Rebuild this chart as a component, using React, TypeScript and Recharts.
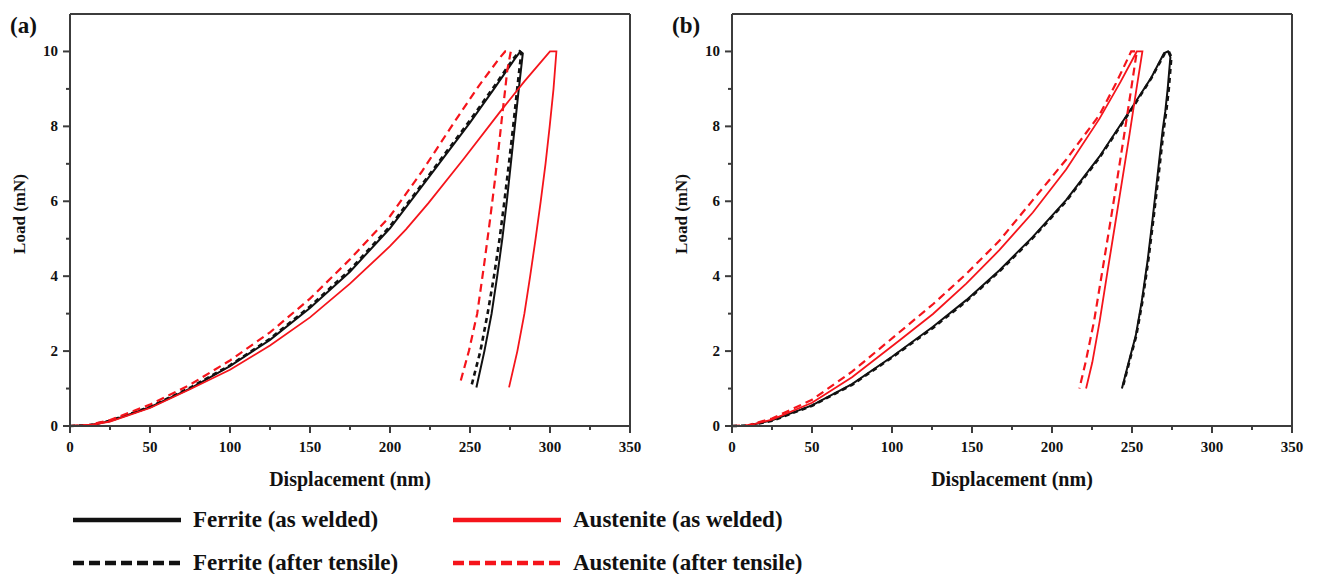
import { LineChart, Line, XAxis, YAxis, ReferenceLine, Label } from 'recharts';

type Pt = [number, number];

const SERIF = "'Liberation Serif', 'Times New Roman', Times, serif";
const AXIS_COLOR = '#3c3c3c';
const BLACK = '#111111';
const RED = '#f5141b';

// [displacement (nm), load (mN)] — loading branch, hold at 10 mN, then unloading branch

// (a)
const ferriteWeldedA: Pt[] = [
  [0, 0], [12, 0.02], [25, 0.13], [50, 0.5], [75, 1.0], [100, 1.6], [125, 2.3],
  [150, 3.15], [175, 4.12], [200, 5.28], [223, 6.57], [250, 8.1], [265, 9.0],
  [278, 9.8], [281.5, 10], [283, 9.95],
  [280.5, 9], [278, 8], [275.5, 7], [273, 6], [270.2, 5], [267, 4], [263.5, 3],
  [259, 2], [254, 1.03],
];
const ferriteTensileA: Pt[] = [
  [0, 0], [12, 0.02], [25, 0.14], [50, 0.51], [75, 1.02], [100, 1.62], [125, 2.33],
  [150, 3.19], [175, 4.17], [200, 5.33], [223, 6.62], [250, 8.16], [265, 9.06],
  [277, 9.8], [281, 10], [282, 9.95],
  [279.5, 9], [277, 8], [274.3, 7], [271.5, 6], [268.5, 5], [265, 4], [261, 3],
  [256.5, 2], [251, 1.09],
];
const austeniteWeldedA: Pt[] = [
  [0, 0], [12, 0.02], [25, 0.12], [50, 0.48], [75, 0.98], [100, 1.5], [125, 2.15],
  [150, 2.9], [175, 3.8], [200, 4.8], [210, 5.25], [224, 5.95], [246, 7.13],
  [269, 8.4], [284, 9.2], [300, 10], [304, 10],
  [302.2, 9], [299.8, 8], [297.2, 7], [294.2, 6], [291, 5], [287.6, 4], [284, 3],
  [279.6, 2], [274.4, 1.03],
];
const austeniteTensileA: Pt[] = [
  [0, 0], [12, 0.03], [25, 0.16], [50, 0.57], [75, 1.1], [100, 1.75], [125, 2.5],
  [150, 3.4], [175, 4.45], [200, 5.6], [220, 6.8], [240, 8.1], [255, 9.05],
  [268, 9.8], [272, 10], [275.5, 10],
  [273.3, 9.5], [271.5, 8.8], [269.8, 8.17], [267.6, 7.3], [265.6, 6.57], [262.5, 5.5],
  [258.8, 4.3], [254.5, 3], [249.3, 2], [243.5, 1.1],
];

// (b)
const ferriteWeldedB: Pt[] = [
  [0, 0], [10, 0.01], [25, 0.15], [50, 0.55], [75, 1.12], [100, 1.85], [125.6, 2.65],
  [146.4, 3.36], [167.2, 4.16], [188, 5.05], [208.8, 6.03], [229.6, 7.19], [250.4, 8.53],
  [262, 9.3], [270, 9.95], [272.5, 10], [274, 9.85],
  [272.3, 9], [270.8, 8.4], [269.2, 7.91], [266, 6.7], [262.8, 5.5], [259.8, 4.43],
  [256, 3.3], [252.3, 2.4], [248.3, 1.76], [243.7, 1.0],
];
const ferriteTensileB: Pt[] = [
  [0, 0], [10, 0.01], [25, 0.14], [50, 0.54], [75, 1.1], [100, 1.83], [125.6, 2.62],
  [146.4, 3.33], [167.2, 4.13], [188, 5.02], [208.8, 6.0], [229.6, 7.16], [250.4, 8.5],
  [262, 9.28], [270.5, 9.95], [273, 10], [274.6, 9.85],
  [273, 9], [271.4, 8.4], [269.8, 7.91], [266.6, 6.7], [263.3, 5.5], [260.2, 4.43],
  [256.4, 3.3], [252.6, 2.4], [248.6, 1.76], [244, 1.0],
];
const austeniteWeldedB: Pt[] = [
  [0, 0], [10, 0.01], [25, 0.17], [50, 0.62], [75, 1.3], [104.8, 2.29], [125.6, 2.99],
  [146.4, 3.8], [167.2, 4.7], [188, 5.7], [208.8, 6.85], [229.6, 8.2], [243, 9.2],
  [253, 10], [256.5, 10],
  [252.8, 9], [248.5, 7.8], [244, 6.6], [239.5, 5.4], [234.6, 4.1], [229.8, 2.8],
  [225.2, 1.7], [221.3, 1.0],
];
const austeniteTensileB: Pt[] = [
  [0, 0], [10, 0.02], [25, 0.2], [50, 0.7], [75, 1.45], [104.8, 2.51], [125.6, 3.25],
  [146.4, 4.06], [167.2, 4.95], [188, 6.03], [208.8, 7.11], [229.6, 8.3], [240, 9.15],
  [249.5, 10], [253, 10],
  [249.5, 9], [245.2, 7.8], [240.8, 6.6], [236.3, 5.4], [231.3, 4.1], [226.3, 2.8],
  [221, 1.7], [217.1, 1.0],
];

const xTicks = [0, 25, 50, 75, 100, 125, 150, 175, 200, 225, 250, 275, 300, 325, 350];
const yTicks = [0, 1, 2, 3, 4, 5, 6, 7, 8, 9, 10];

const legendItems = [
  { name: 'Ferrite (as welded)', color: BLACK, dashed: false },
  { name: 'Austenite (as welded)', color: RED, dashed: false },
  { name: 'Ferrite (after tensile)', color: BLACK, dashed: true },
  { name: 'Austenite (after tensile)', color: RED, dashed: true },
];

const toRows = (pts: Pt[]) => pts.map(([x, y]) => ({ x, y }));

function XTick({ x, y, payload }: any) {
  const major = payload.value % 50 === 0;
  return (
    <g>
      <line x1={x} x2={x} y1={y} y2={y + (major ? 7 : 4)} stroke={AXIS_COLOR} strokeWidth={2} />
      {major && (
        <text x={x} y={y + 26} textAnchor="middle" fontFamily={SERIF} fontWeight="bold" fontSize={15} fill="#111">
          {payload.value}
        </text>
      )}
    </g>
  );
}

function YTick({ x, y, payload }: any) {
  const major = payload.value % 2 === 0;
  return (
    <g>
      <line x1={x - (major ? 7 : 4)} x2={x} y1={y} y2={y} stroke={AXIS_COLOR} strokeWidth={2} />
      {major && (
        <text x={x - 12} y={y + 5} textAnchor="end" fontFamily={SERIF} fontWeight="bold" fontSize={15} fill="#111">
          {payload.value}
        </text>
      )}
    </g>
  );
}

function XTitle({ viewBox }: any) {
  const { x, y, width, height } = viewBox;
  return (
    <text x={x + width / 2} y={y + height + 20} textAnchor="middle" fontFamily={SERIF} fontWeight="bold" fontSize={20} fill="#111">
      Displacement (nm)
    </text>
  );
}

function YTitle({ viewBox }: any) {
  const { x, y, height } = viewBox;
  const cx = x + 11;
  const cy = y + height / 2 - 6;
  return (
    <text
      x={cx}
      y={cy}
      transform={`rotate(-90 ${cx} ${cy})`}
      textAnchor="middle"
      dominantBaseline="central"
      fontFamily={SERIF}
      fontWeight="bold"
      fontSize={17}
      fill="#111"
    >
      Load (mN)
    </text>
  );
}

interface PanelProps {
  tag: string;
  left: number;
  ferriteWelded: Pt[];
  ferriteTensile: Pt[];
  austeniteWelded: Pt[];
  austeniteTensile: Pt[];
}

function Panel({ tag, left, ferriteWelded, ferriteTensile, austeniteWelded, austeniteTensile }: PanelProps) {
  return (
    <div style={{ position: 'absolute', left, top: 0, width: 650, height: 500 }}>
      <div
        style={{
          position: 'absolute',
          left: 10,
          top: 14,
          fontFamily: SERIF,
          fontWeight: 'bold',
          fontSize: 23,
          lineHeight: '24px',
          color: '#111',
        }}
      >
        {tag}
      </div>
      <LineChart width={650} height={500} margin={{ top: 14, right: 20, left: 8, bottom: 34 }}>
        <XAxis
          dataKey="x"
          type="number"
          domain={[0, 350]}
          ticks={xTicks}
          interval={0}
          height={40}
          tickSize={0}
          tickMargin={0}
          tick={<XTick />}
          axisLine={{ stroke: AXIS_COLOR, strokeWidth: 2 }}
        >
          <Label content={<XTitle />} />
        </XAxis>
        <YAxis
          type="number"
          domain={[0, 11]}
          ticks={yTicks}
          interval={0}
          width={62}
          tickSize={0}
          tickMargin={0}
          tick={<YTick />}
          axisLine={{ stroke: AXIS_COLOR, strokeWidth: 2 }}
        >
          <Label content={<YTitle />} />
        </YAxis>
        <ReferenceLine y={11} stroke={AXIS_COLOR} strokeWidth={2} />
        <ReferenceLine x={350} stroke={AXIS_COLOR} strokeWidth={2} />
        <Line data={toRows(ferriteWelded)} dataKey="y" type="linear" stroke={BLACK} strokeWidth={2} dot={false} isAnimationActive={false} />
        <Line data={toRows(ferriteTensile)} dataKey="y" type="linear" stroke={BLACK} strokeWidth={2.6} strokeDasharray="5 4" dot={false} isAnimationActive={false} />
        <Line data={toRows(austeniteWelded)} dataKey="y" type="linear" stroke={RED} strokeWidth={1.8} dot={false} isAnimationActive={false} />
        <Line data={toRows(austeniteTensile)} dataKey="y" type="linear" stroke={RED} strokeWidth={2.2} strokeDasharray="8 5" dot={false} isAnimationActive={false} />
      </LineChart>
    </div>
  );
}

function LegendRow({ item, left, top }: { item: (typeof legendItems)[number]; left: number; top: number }) {
  return (
    <div style={{ position: 'absolute', left, top, height: 30, display: 'flex', alignItems: 'center' }}>
      <svg width={108} height={10} style={{ display: 'block' }}>
        <line
          x1={0}
          x2={108}
          y1={5}
          y2={5}
          stroke={item.color}
          strokeWidth={4.5}
          strokeDasharray={item.dashed ? '11 5' : undefined}
        />
      </svg>
      <span
        style={{
          marginLeft: 12,
          fontFamily: SERIF,
          fontWeight: 'bold',
          fontSize: 23,
          color: '#111',
          whiteSpace: 'nowrap',
        }}
      >
        {item.name}
      </span>
    </div>
  );
}

export default function App() {
  return (
    <div style={{ position: 'absolute', left: 0, top: 0, width: 1317, height: 574, background: '#fff', overflow: 'hidden' }}>
      <Panel
        tag="(a)"
        left={0}
        ferriteWelded={ferriteWeldedA}
        ferriteTensile={ferriteTensileA}
        austeniteWelded={austeniteWeldedA}
        austeniteTensile={austeniteTensileA}
      />
      <Panel
        tag="(b)"
        left={662}
        ferriteWelded={ferriteWeldedB}
        ferriteTensile={ferriteTensileB}
        austeniteWelded={austeniteWeldedB}
        austeniteTensile={austeniteTensileB}
      />
      <LegendRow item={legendItems[0]} left={73} top={505} />
      <LegendRow item={legendItems[1]} left={453} top={505} />
      <LegendRow item={legendItems[2]} left={73} top={548} />
      <LegendRow item={legendItems[3]} left={453} top={548} />
    </div>
  );
}
